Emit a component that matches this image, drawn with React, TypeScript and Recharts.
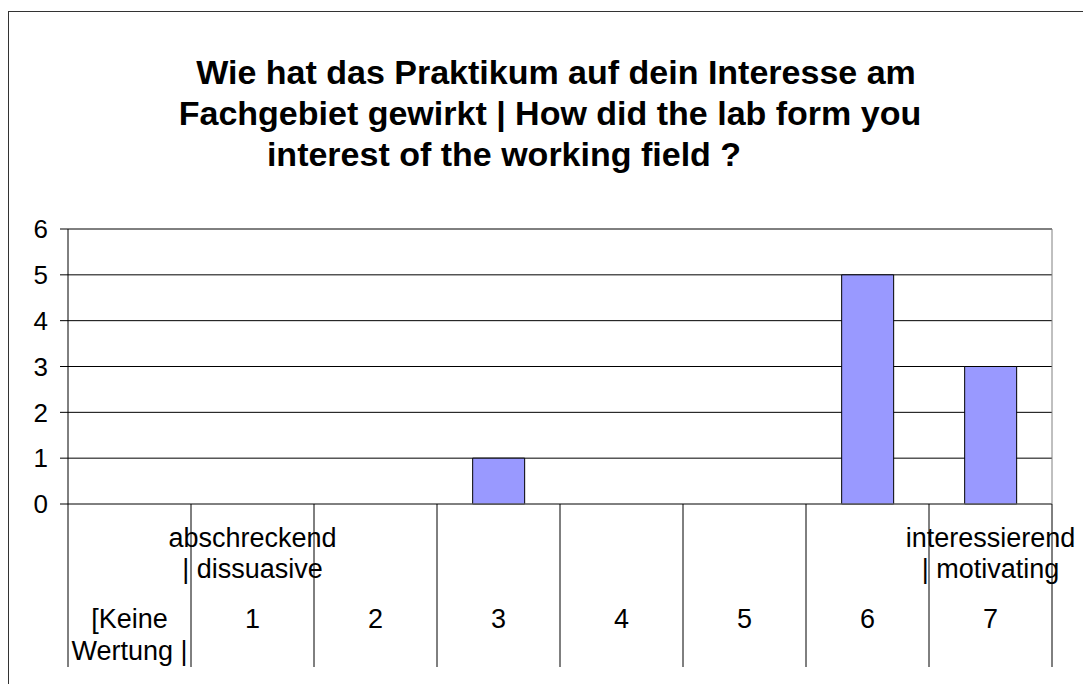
import { BarChart, Bar, XAxis, YAxis, CartesianGrid } from "recharts";

const categories = ["[Keine Wertung |", "1", "2", "3", "4", "5", "6", "7"];
const labelLines = [["[Keine", "Wertung |"], ["1"], ["2"], ["3"], ["4"], ["5"], ["6"], ["7"]];
const anchorLines = [[], ["abschreckend", "| dissuasive"], [], [], [], [], [], ["interessierend", "| motivating"]];
const counts = [0, 0, 0, 1, 0, 0, 5, 3];
const yTicks = [0, 1, 2, 3, 4, 5, 6];
const titleLines = [
  "Wie hat das Praktikum auf dein Interesse am",
  "Fachgebiet gewirkt | How did the lab form you",
  "interest of the working field ?",
];

const data = categories.map((c, i) => ({ category: c, count: counts[i] }));

const FONT = "'Liberation Sans', Arial, sans-serif";

function CategoryTick(props: any) {
  const { x, y, payload, index } = props;
  const half = payload?.offset ?? 61.5;
  const i = payload?.index ?? index;
  const top = anchorLines[i] || [];
  const main = labelLines[i] || [];
  return (
    <g>
      <line x1={x - half} x2={x - half} y1={y} y2={y + 163} stroke="#000" />
      {i === categories.length - 1 && (
        <line x1={x + half} x2={x + half} y1={y} y2={y + 163} stroke="#000" />
      )}
      {top.map((t: string, k: number) => (
        <text key={"a" + k} x={x} y={y + 43 + k * 31} textAnchor="middle" fontSize={27} fontFamily={FONT} fill="#000">
          {t}
        </text>
      ))}
      {main.map((t: string, k: number) => (
        <text key={"m" + k} x={x} y={y + 124 + k * 32} textAnchor="middle" fontSize={27} fontFamily={FONT} fill="#000">
          {t}
        </text>
      ))}
    </g>
  );
}

export default function App() {
  return (
    <div style={{ position: "absolute", left: 0, top: 0, width: 1083, height: 684, background: "#fff" }}>
      <div
        style={{
          position: "absolute",
          left: 8,
          top: 11,
          width: 1083,
          height: 684,
          borderLeft: "1px solid #333",
          borderTop: "1px solid #333",
        }}
      />
      <svg style={{ position: "absolute", left: 0, top: 0 }} width={1083} height={200}>
        {titleLines.map((t, i) => (
          <text
            key={i}
            x={[556, 550, 504][i]}
            y={84 + i * 41}
            textAnchor="middle"
            fontSize={34}
            fontWeight="bold"
            fontFamily={FONT}
            fill="#000"
          >
            {t}
          </text>
        ))}
      </svg>
      <div style={{ position: "absolute", left: 0, top: 0 }}>
        <BarChart
          width={1083}
          height={684}
          data={data}
          margin={{ top: 229, right: 31, bottom: 0, left: 0 }}
          barCategoryGap="29%"
        >
          <CartesianGrid vertical={false} stroke="#000" strokeDasharray="" />
          <CartesianGrid
            stroke="#808080"
            horizontalCoordinatesGenerator={({ offset }: any) => [offset.top, offset.top + offset.height]}
            verticalCoordinatesGenerator={({ offset }: any) => [offset.left + offset.width]}
          />
          <XAxis
            dataKey="category"
            height={180}
            interval={0}
            tickSize={0}
            tickMargin={0}
            tickLine={false}
            axisLine={{ stroke: "#808080" }}
            tick={<CategoryTick />}
          />
          <YAxis
            width={68}
            domain={[0, 6]}
            ticks={yTicks}
            interval={0}
            tickSize={8}
            tickMargin={12}
            axisLine={{ stroke: "#000" }}
            tickLine={{ stroke: "#000" }}
            tick={{ fontSize: 26, fill: "#000", fontFamily: FONT }}
          />
          <Bar dataKey="count" fill="#9999ff" stroke="#000" strokeWidth={1} isAnimationActive={false} />
        </BarChart>
      </div>
    </div>
  );
}
